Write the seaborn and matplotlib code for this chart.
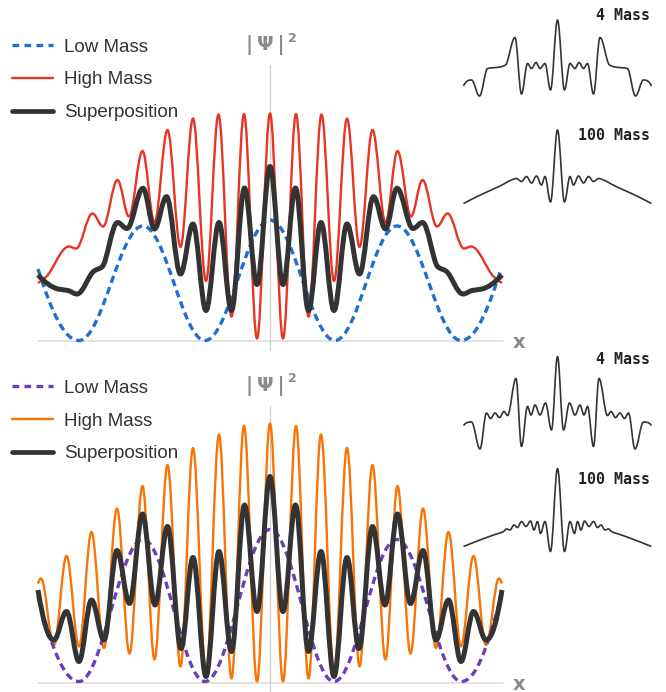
import numpy as np
import seaborn as sns
import matplotlib
matplotlib.use("Agg")
import matplotlib.pyplot as plt
from matplotlib.path import Path
from matplotlib.patches import PathPatch
from matplotlib.lines import Line2D

# -------------------------
# values (x: offset from centre, y: height above axis)
# -------------------------

# top panel
x_low_top = [-232, -191, -127, -65, 0, 65, 127, 191, 231]
y_low_top = [72, 0.5, 115, 0.5, 121, 0.5, 115, 0.5, 72]

x_high_top = [-232, -224, -201, -194, -177.5, -167, -152.5, -141, -127.5, -115.5,
              -102.5, -89.5, -77, -64, -51.5, -38.5, -26, -13, 0, 13, 26, 38.5,
              51.5, 64, 77, 89.5, 102.5, 115.5, 127.5, 141, 152.5, 167, 177.5,
              194, 201, 224, 232]
y_high_top = [58, 64, 94.5, 92.5, 127.5, 114.5, 161, 124.5, 190, 118.5, 211, 94,
              222.5, 60, 226.5, 24.3, 227, 2.5, 227.5, 2.5, 227, 24.3, 226.5, 60,
              222.5, 94, 211, 118.5, 190, 124.5, 161, 114.5, 127.5, 92.5, 94.5,
              64, 58]

x_sup_top = [-232, -212, -202, -193, -176, -168, -152.5, -143, -127, -115.5,
             -103.5, -89.5, -77, -64, -51, -38.5, -25.5, -13, 0, 13, 25.5, 38.5,
             51, 64, 77, 89.5, 103.5, 115.5, 127, 143, 152.5, 168, 176, 193, 202,
             212, 232]
y_sup_top = [66, 52, 50.5, 47, 70, 74, 118.5, 112.5, 152.7, 112, 144.3, 67, 117,
             30.5, 118.5, 30.5, 153, 56.5, 174.5, 56.5, 153, 30.5, 118.5, 30.5,
             117, 67, 144.3, 112, 152.7, 112.5, 118.5, 74, 70, 47, 50.5, 52, 66]

# bottom panel
x_low_bot = [-232, -191, -127, -65, 0, 64, 126.5, 191.5, 231]
y_low_bot = [86, 1, 143, 1, 153, 1, 143, 1, 86]

x_high_bot = [-232, -229, -216, -203.5, -191, -178.5, -166, -153, -140.5, -127.5,
              -115.5, -102.5, -89.5, -77, -64, -51, -38.5, -26, -13, 0, 13, 26,
              38.5, 51, 64, 77, 89.5, 102.5, 115.5, 127.5, 140.5, 153, 166, 178.5,
              191, 203.5, 216, 229, 232]
y_high_bot = [99, 104, 37.5, 126.5, 36, 150.5, 34.5, 174, 29, 196.5, 23, 217.5,
              16, 234.5, 7.5, 248, 4, 256.5, 1, 259, 1, 256.5, 4, 248, 7.5, 234.5,
              16, 217.5, 23, 196.5, 29, 174, 34.5, 150.5, 36, 126.5, 37.5, 104, 99]

x_sup_bot = [-232, -216, -203.5, -191, -178.5, -166, -153, -140.5, -127.5, -115,
             -102.5, -89, -77, -64, -51, -38.5, -25.5, -13, 0, 13, 25.5, 38.5, 51,
             64, 77, 89, 102.5, 115, 127.5, 140.5, 153, 166, 178.5, 191, 203.5,
             216, 232]
y_sup_bot = [92.5, 42.5, 71, 21, 82.5, 42.5, 132, 79, 168.5, 77.5, 156, 34, 125,
             6, 131, 31, 177.5, 71, 206, 71, 177.5, 31, 131, 6, 125, 34, 156, 77.5,
             168.5, 79, 132, 42.5, 82.5, 21, 71, 42.5, 92.5]

# small plots on the right
x_m4_top = [-94, -86, -78, -70, -57.5, -52, -42.5, -36, -30, -26, -21.5, -17.5,
            -12.5, -7, 0, 7, 12.5, 17.5, 21.5, 26, 30, 36, 42.5, 52, 57.5, 70, 78,
            86, 94]
y_m4_top = [14, 20, 4, 31.5, 33, 35, 62.5, 6, 36.5, 31.5, 37.5, 31.5, 36.5, 10,
            80, 10, 36.5, 31.5, 37.5, 31.5, 36.5, 6, 62.5, 35, 33, 31.5, 4, 20, 14]

x_m100_top = [-94, -74, -57.5, -46, -41, -36, -31, -26, -21, -16, -12.5, -7, 0,
              7, 12.5, 16, 21, 26, 31, 36, 41, 46, 57.5, 74, 94]
y_m100_top = [8.5, 18.5, 26, 32, 33.5, 30.5, 35.5, 29, 36, 27, 35.5, 10, 82, 10,
              35.5, 27, 36, 29, 35.5, 30.5, 33.5, 32, 26, 18.5, 8.5]

x_m4_bot = [-94, -86, -77.5, -71, -67, -62.5, -58, -53.5, -50, -41.5, -36, -30,
            -26.5, -22.5, -17.5, -12, -6, 0, 6, 12, 17.5, 22.5, 26.5, 30, 36, 41.5,
            50, 53.5, 58, 62.5, 67, 71, 77.5, 86, 94]
y_m4_bot = [29.5, 33, 6, 42, 36.5, 42, 37.5, 43.5, 39.5, 76.5, 8.5, 48.5, 40, 50,
            40, 52, 25, 98.5, 25, 52, 40, 50, 40, 48.5, 8.5, 76.5, 39.5, 43.5, 37.5,
            42, 36.5, 42, 6, 33, 29.5]

x_m100_bot = [-94, -77.5, -64, -54, -51, -47.5, -43.5, -40, -36, -31.5, -27,
              -23.5, -20, -17, -12.5, -7, 0, 7, 12.5, 17, 20, 23.5, 27, 31.5, 36,
              40, 43.5, 47.5, 51, 54, 64, 77.5, 94]
y_m100_bot = [8.5, 15, 20, 23.5, 26, 25, 30, 27.5, 33.5, 28.5, 34, 25, 33.5, 21.5,
              33.5, 3.5, 86.5, 3.5, 33.5, 21.5, 33.5, 25, 34, 28.5, 33.5, 27.5, 30,
              25, 26, 23.5, 20, 15, 8.5]

legend_labels = ["Low Mass", "High Mass", "Superposition"]
inset_labels = ["4 Mass", "100 Mass"]

# -------------------------
# style
# -------------------------

sns.set_theme(style="white")
plt.rcParams['font.family'] = ['Liberation Sans', 'DejaVu Sans']

GREY = "#8a8a8a"
DARK = "#333333"


def end_slope(h0, h1, d0, d1):
    m = ((2 * h0 + h1) * d0 - h0 * d1) / (h0 + h1)
    if np.sign(m) != np.sign(d0):
        m = 0.0
    elif np.sign(d0) != np.sign(d1) and abs(m) > 3 * abs(d0):
        m = 3 * d0
    return m


def smooth_path(x, y):
    # bezier segments through the read points, flat at each peak and dip
    x = np.asarray(x, float)
    y = np.asarray(y, float)
    h = np.diff(x)
    d = np.diff(y) / h
    m = np.zeros_like(y)
    for k in range(1, len(x) - 1):
        if d[k - 1] * d[k] > 0:
            w1 = 2 * h[k] + h[k - 1]
            w2 = h[k] + 2 * h[k - 1]
            m[k] = (w1 + w2) / (w1 / d[k - 1] + w2 / d[k])
    m[0] = end_slope(h[0], h[1], d[0], d[1])
    m[-1] = end_slope(h[-1], h[-2], d[-1], d[-2])
    verts = [(x[0], y[0])]
    for k in range(len(x) - 1):
        a0 = 0.364 * h[k] if m[k] == 0 else h[k] / 3
        a1 = 0.364 * h[k] if m[k + 1] == 0 else h[k] / 3
        verts.append((x[k] + a0, y[k] + m[k] * a0))
        verts.append((x[k + 1] - a1, y[k + 1] - m[k + 1] * a1))
        verts.append((x[k + 1], y[k + 1]))
    codes = [Path.MOVETO] + [Path.CURVE4] * (3 * (len(x) - 1))
    return Path(verts, codes)


def add_curve(ax, x, y, **kw):
    ax.add_patch(PathPatch(smooth_path(x, y), fill=False, **kw))


fig = plt.figure(figsize=(6.66, 6.92), dpi=100)

W, H = 666, 692


def panel(top_px, bottom_px, base_px, low, high, sup, c_low, c_high,
          legend_px, label_px, vline_px, vline_end_px):
    ax = fig.add_axes([0, 1 - bottom_px / H, 1, (bottom_px - top_px) / H])
    ax.set_xlim(-270, W - 270)
    ax.set_ylim(base_px - bottom_px, base_px - top_px)
    ax.set_axis_off()

    ax.plot([-232, 233], [0, 0], color="#dddddd", lw=1.2, zorder=1)
    ax.plot([0, 0], [base_px - vline_end_px, base_px - vline_px], color="#d0d0d0",
            lw=0.9, zorder=1, clip_on=False)

    dash = (0, (2.2, 1.35))
    add_curve(ax, *high, edgecolor=c_high, lw=1.7, zorder=3, joinstyle="round")
    add_curve(ax, *low, edgecolor=c_low, lw=2.4, linestyle=dash, capstyle="butt",
              zorder=4)
    add_curve(ax, *sup, edgecolor=DARK, lw=3.6, zorder=5, joinstyle="round")

    handles = [Line2D([], [], color=c_low, lw=2.4, linestyle=(0, (2.0, 1.6)),
                      dash_capstyle="butt"),
               Line2D([], [], color=c_high, lw=1.7),
               Line2D([], [], color=DARK, lw=3.4)]
    ax.legend(handles, legend_labels, loc="upper left",
              bbox_to_anchor=(12 - 270, base_px - legend_px),
              bbox_transform=ax.transData, frameon=False, fontsize=13.5,
              handlelength=2.2, handletextpad=0.6, labelspacing=0.84,
              borderpad=0, borderaxespad=0, labelcolor=DARK)

    lab_y = base_px - label_px
    ax.text(-5, lab_y, "|\u2009Ψ\u2009|", ha="center", va="center", fontsize=14,
            fontweight="bold", color=GREY, family="DejaVu Sans")
    ax.text(22, lab_y + 7, "2", ha="center", va="center", fontsize=9,
            fontweight="bold", color=GREY, family="DejaVu Sans")
    ax.text(249, -1.5, "x", ha="center", va="center", fontsize=14,
            fontweight="bold", color=GREY, family="DejaVu Sans")
    return ax


def inset(top_px, bottom_px, base_px, xs, ys, label, label_px):
    ax = fig.add_axes([455 / W, 1 - bottom_px / H, 205 / W, (bottom_px - top_px) / H])
    ax.set_xlim(-102.5, 102.5)
    ax.set_ylim(base_px - bottom_px, base_px - top_px)
    ax.set_axis_off()
    ax.patch.set_alpha(0)
    add_curve(ax, xs, ys, edgecolor=DARK, lw=1.2, joinstyle="round")
    ax.text(92.5, base_px - label_px, label, ha="right", va="center", fontsize=10.8,
            fontweight="bold", color="#222222", family="DejaVu Sans Mono")
    return ax


panel(0, 346, 341,
      (x_low_top, y_low_top), (x_high_top, y_high_top), (x_sup_top, y_sup_top),
      "#1f6fcf", "#ea3323", 38.5, 45, 65, 350)
panel(346, 692, 682.5,
      (x_low_bot, y_low_bot), (x_high_bot, y_high_bot), (x_sup_bot, y_sup_bot),
      "#6b3fb8", "#fa7305", 379.5, 386, 406, 692)

inset(0, 105, 100, x_m4_top, y_m4_top, inset_labels[0], 16)
inset(110, 216, 212, x_m100_top, y_m100_top, inset_labels[1], 135)
inset(346, 460, 455, x_m4_bot, y_m4_bot, inset_labels[0], 360)
inset(462, 560, 555, x_m100_bot, y_m100_bot, inset_labels[1], 479)

fig.savefig("out.png", dpi=100)
